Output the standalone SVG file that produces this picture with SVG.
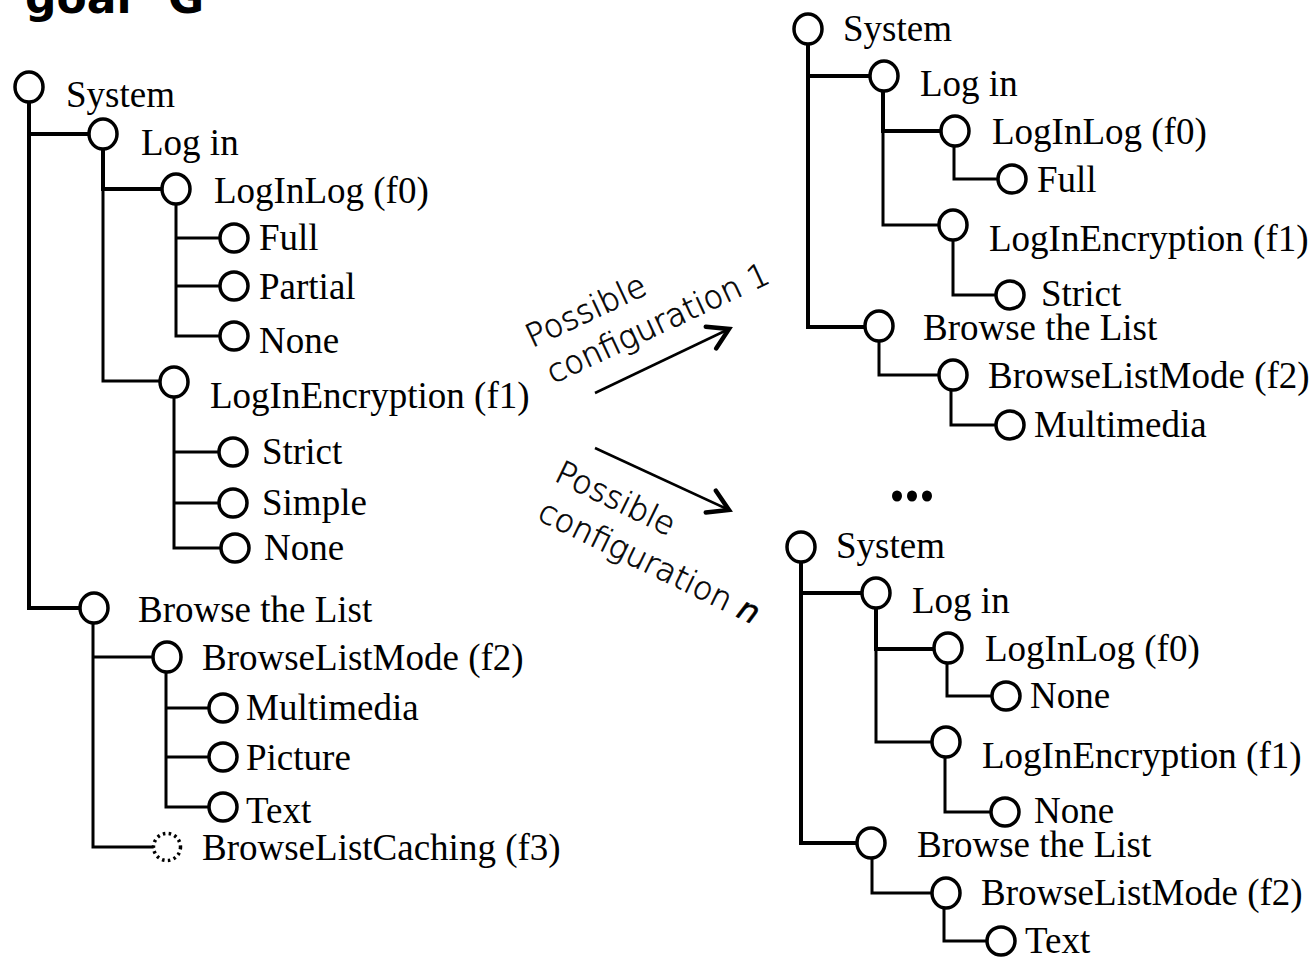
<svg xmlns="http://www.w3.org/2000/svg" width="1315" height="958" viewBox="0 0 1315 958">
<style>
  .n { fill: #fff; stroke: #000; stroke-width: 3.5; }
  .dot { fill: #fff; stroke: #000; stroke-width: 3.5; stroke-dasharray: 2.5 3.4; }
  .t { font-family: "Liberation Serif", "Times New Roman", serif; font-size: 37px; fill: #000; }
  .c { fill: none; stroke: #000; stroke-width: 3; }
  .ck { fill: none; stroke: #000; stroke-width: 4; }
  .lbl { font-family: "DejaVu Sans", "Lato", sans-serif; font-size: 32px; font-weight: 200; fill: #000; stroke: #000; stroke-width: 0.6; }
  .arr { fill: none; stroke: #000; stroke-width: 2.5; }
  .hd { font-family: "DejaVu Sans", sans-serif; font-weight: bold; font-size: 44px; fill: #000; }
</style>
<defs>
  <marker id="ah" viewBox="-26 -15 30 30" markerWidth="30" markerHeight="30" refX="0" refY="0" orient="auto" markerUnits="userSpaceOnUse">
    <path d="M-20,-12 L0,0 L-20,12" fill="none" stroke="#000" stroke-width="4.5" stroke-linecap="round"/>
  </marker>
</defs>

<text class="hd" x="25" y="13">goal <tspan x="168">G</tspan></text>

<!-- connectors -->
<g id="connectors">
  <!-- left tree -->
  <path class="ck" d="M29,101 V608 H81"/>
  <path class="ck" d="M29,134 H89"/>
  <path class="ck" d="M103,148 V189 H162"/>
  <path class="c" d="M103,189 V381 H160"/>
  <path class="c" d="M176,204 V336 H220"/>
  <path class="c" d="M176,238 H220"/>
  <path class="c" d="M176,286 H220"/>
  <path class="c" d="M174,397 V548 H221"/>
  <path class="c" d="M174,452 H219"/>
  <path class="c" d="M174,503 H219"/>
  <path class="c" d="M93,623 V847 H154"/>
  <path class="c" d="M93,657 H153"/>
  <path class="c" d="M166,673 V807 H209"/>
  <path class="c" d="M166,708 H209"/>
  <path class="c" d="M166,757 H209"/>
  <!-- top-right tree -->
  <path class="ck" d="M808,44 V327 H865"/>
  <path class="ck" d="M808,76 H870"/>
  <path class="ck" d="M883,91 V131 H941"/>
  <path class="c" d="M883,131 V225 H939"/>
  <path class="c" d="M954,146 V179 H998"/>
  <path class="c" d="M953,240 V295 H996"/>
  <path class="c" d="M879,341 V375 H939"/>
  <path class="c" d="M951,390 V425 H996"/>
  <!-- bottom-right tree -->
  <path class="ck" d="M801,562 V843 H857"/>
  <path class="ck" d="M801,593 H862"/>
  <path class="ck" d="M876,608 V649 H934"/>
  <path class="c" d="M876,649 V742 H932"/>
  <path class="c" d="M947,663 V696 H992"/>
  <path class="c" d="M945,757 V812 H991"/>
  <path class="c" d="M872,858 V893 H932"/>
  <path class="c" d="M944,908 V941 H987"/>
  <!-- arrows -->
  <path class="arr" d="M595,393 L729,329" marker-end="url(#ah)"/>
  <path class="arr" d="M595,448 L729,510" marker-end="url(#ah)"/>
</g>

<!-- left tree nodes -->
<g id="L-system"><ellipse class="n" cx="29" cy="87" rx="14" ry="15"/><text class="t" x="66" y="107">System</text></g>
<g id="L-login"><ellipse class="n" cx="103" cy="134" rx="14" ry="15"/><text class="t" x="141" y="155">Log in</text></g>
<g id="L-loginlog"><ellipse class="n" cx="176" cy="189" rx="14" ry="15"/><text class="t" x="214" y="203">LogInLog (f0)</text></g>
<g id="L-full"><circle class="n" cx="234" cy="238" r="14"/><text class="t" x="259" y="250">Full</text></g>
<g id="L-partial"><circle class="n" cx="234" cy="286" r="14"/><text class="t" x="259" y="299">Partial</text></g>
<g id="L-none0"><circle class="n" cx="234" cy="336" r="14"/><text class="t" x="259" y="353">None</text></g>
<g id="L-loginenc"><ellipse class="n" cx="174" cy="382" rx="14" ry="15"/><text class="t" x="210" y="408">LogInEncryption (f1)</text></g>
<g id="L-strict"><circle class="n" cx="233" cy="452" r="14"/><text class="t" x="262" y="464">Strict</text></g>
<g id="L-simple"><circle class="n" cx="233" cy="503" r="14"/><text class="t" x="262" y="515">Simple</text></g>
<g id="L-none1"><circle class="n" cx="235" cy="548" r="14"/><text class="t" x="264" y="560">None</text></g>
<g id="L-browse"><ellipse class="n" cx="94" cy="608" rx="14" ry="15"/><text class="t" x="138" y="622">Browse the List</text></g>
<g id="L-blmode"><ellipse class="n" cx="167" cy="657" rx="14" ry="15"/><text class="t" x="202" y="670">BrowseListMode (f2)</text></g>
<g id="L-multimedia"><circle class="n" cx="223" cy="708" r="14"/><text class="t" x="246" y="720">Multimedia</text></g>
<g id="L-picture"><circle class="n" cx="223" cy="757" r="14"/><text class="t" x="246" y="770">Picture</text></g>
<g id="L-text"><circle class="n" cx="223" cy="807" r="14"/><text class="t" x="246" y="823">Text</text></g>
<g id="L-caching"><circle class="dot" cx="167" cy="847" r="13.5"/><text class="t" x="202" y="860">BrowseListCaching (f3)</text></g>

<!-- top-right tree nodes -->
<g id="A-system"><ellipse class="n" cx="808" cy="29" rx="14" ry="15"/><text class="t" x="843" y="41">System</text></g>
<g id="A-login"><ellipse class="n" cx="884" cy="76" rx="14" ry="15"/><text class="t" x="920" y="96">Log in</text></g>
<g id="A-loginlog"><ellipse class="n" cx="955" cy="131" rx="14" ry="15"/><text class="t" x="992" y="144">LogInLog (f0)</text></g>
<g id="A-full"><circle class="n" cx="1012" cy="179" r="14"/><text class="t" x="1037" y="192">Full</text></g>
<g id="A-loginenc"><ellipse class="n" cx="953" cy="225" rx="14" ry="15"/><text class="t" x="989" y="251">LogInEncryption (f1)</text></g>
<g id="A-strict"><circle class="n" cx="1010" cy="295" r="14"/><text class="t" x="1041" y="306">Strict</text></g>
<g id="A-browse"><ellipse class="n" cx="879" cy="326" rx="14" ry="15"/><text class="t" x="923" y="340">Browse the List</text></g>
<g id="A-blmode"><ellipse class="n" cx="953" cy="375" rx="14" ry="15"/><text class="t" x="988" y="388">BrowseListMode (f2)</text></g>
<g id="A-multimedia"><circle class="n" cx="1010" cy="425" r="14"/><text class="t" x="1034" y="437">Multimedia</text></g>

<!-- ellipsis -->
<g id="ellipsis">
  <ellipse cx="897" cy="496" rx="5" ry="5.5"/>
  <ellipse cx="912" cy="496" rx="5" ry="5.5"/>
  <ellipse cx="927" cy="496" rx="5" ry="5.5"/>
</g>

<!-- bottom-right tree nodes -->
<g id="B-system"><ellipse class="n" cx="801" cy="547" rx="14" ry="15"/><text class="t" x="836" y="558">System</text></g>
<g id="B-login"><ellipse class="n" cx="876" cy="593" rx="14" ry="15"/><text class="t" x="912" y="613">Log in</text></g>
<g id="B-loginlog"><ellipse class="n" cx="948" cy="648" rx="14" ry="15"/><text class="t" x="985" y="661">LogInLog (f0)</text></g>
<g id="B-none0"><circle class="n" cx="1006" cy="696" r="14"/><text class="t" x="1030" y="708">None</text></g>
<g id="B-loginenc"><ellipse class="n" cx="946" cy="742" rx="14" ry="15"/><text class="t" x="982" y="768">LogInEncryption (f1)</text></g>
<g id="B-none1"><circle class="n" cx="1005" cy="812" r="14"/><text class="t" x="1034" y="823">None</text></g>
<g id="B-browse"><ellipse class="n" cx="871" cy="843" rx="14" ry="15"/><text class="t" x="917" y="857">Browse the List</text></g>
<g id="B-blmode"><ellipse class="n" cx="946" cy="893" rx="14" ry="15"/><text class="t" x="981" y="905">BrowseListMode (f2)</text></g>
<g id="B-text"><circle class="n" cx="1001" cy="941" r="14"/><text class="t" x="1025" y="953">Text</text></g>

<!-- arrow labels -->
<g id="label1">
  <text class="lbl" transform="translate(532,348) rotate(-25)">Possible</text>
  <text class="lbl" transform="translate(553,384) rotate(-25)">configuration 1</text>
</g>
<g id="labeln">
  <text class="lbl" transform="translate(553,480) rotate(26)">Possible</text>
  <text class="lbl" transform="translate(536,519) rotate(26)">configuration <tspan font-style="italic">n</tspan></text>
</g>
</svg>
